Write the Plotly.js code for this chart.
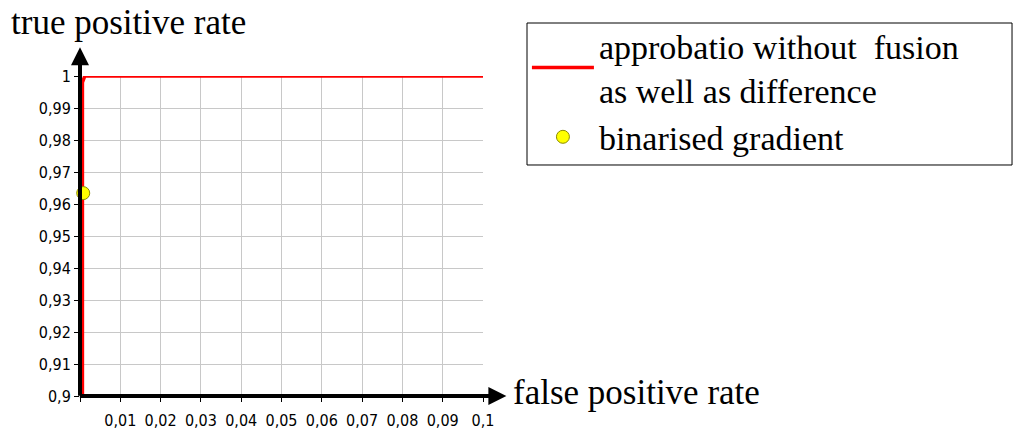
<!DOCTYPE html>
<html>
<head>
<meta charset="utf-8">
<script src="https://cdn.plot.ly/plotly-3.0.1.min.js"></script>
<style>
  html, body { margin: 0; padding: 0; background: #fff; }
  #chart { width: 1024px; height: 436px; }
</style>
</head>
<body>
<div id="chart"></div>
<script>
// tick positions and labels
const xTickVals = [0, 0.01, 0.02, 0.03, 0.04, 0.05, 0.06, 0.07, 0.08, 0.09, 0.1];
const xTickText = ['', '0,01', '0,02', '0,03', '0,04', '0,05', '0,06', '0,07', '0,08', '0,09', '0,1'];
const yTickVals = [0.9, 0.91, 0.92, 0.93, 0.94, 0.95, 0.96, 0.97, 0.98, 0.99, 1];
const yTickText = ['0,9', '0,91', '0,92', '0,93', '0,94', '0,95', '0,96', '0,97', '0,98', '0,99', '1'];

// ROC curve of approbatio without fusion as well as difference
const rocFpr = [0.0006, 0.0006, 0.0012, 0.1];
const rocTpr = [0.9, 0.998, 1, 1];

// single operating point of binarised gradient
const gradFpr = [0.0008];
const gradTpr = [0.9634];

const serif = '"Liberation Serif", "Times New Roman", serif';
const sans = '"DejaVu Sans Condensed", "DejaVu Sans", sans-serif';

const roc = {
  x: rocFpr, y: rocTpr,
  mode: 'lines', type: 'scatter',
  line: { color: '#ff0000', width: 3.5 },
  name: 'approbatio without  fusion<br>as well as difference',
  cliponaxis: false
};

const grad = {
  x: gradFpr, y: gradTpr,
  mode: 'markers', type: 'scatter',
  marker: { color: '#ffff00', size: 13, line: { color: '#8a8a00', width: 1 } },
  name: 'binarised gradient',
  cliponaxis: false
};

const layout = {
  width: 1024, height: 436,
  margin: { l: 80, r: 541, t: 76, b: 40 },
  paper_bgcolor: '#fff', plot_bgcolor: '#fff',
  separators: ',.',
  showlegend: true,
  legend: {
    x: 1.109, y: 1.185, xanchor: 'left', yanchor: 'top',
    bgcolor: 'rgba(0,0,0,0)', borderwidth: 0,
    font: { family: serif, size: 34, color: '#000' },
    itemwidth: 62,
    tracegroupgap: 0
  },
  // legend frame
  shapes: [
    { type: 'rect', xref: 'paper', yref: 'paper', x0: 1.1092, x1: 2.3127, y0: 0.7219, y1: 1.1656,
      line: { color: '#000', width: 1 }, fillcolor: 'rgba(0,0,0,0)' }
  ],
  xaxis: {
    range: [0, 0.1],
    tickvals: xTickVals, ticktext: xTickText,
    ticks: 'outside', ticklen: 5, tickcolor: '#000', tickwidth: 1,
    ticklabelstandoff: 5,
    tickfont: { family: sans, size: 16, color: '#000' },
    showgrid: true, gridcolor: '#c8c8c8', gridwidth: 1,
    zeroline: false, showline: false, fixedrange: true
  },
  yaxis: {
    range: [0.9, 1],
    tickvals: yTickVals, ticktext: yTickText,
    ticks: 'outside', ticklen: 5, tickcolor: '#000', tickwidth: 1,
    tickfont: { family: sans, size: 16, color: '#000' },
    showgrid: true, gridcolor: '#c8c8c8', gridwidth: 1,
    zeroline: false, showline: false, fixedrange: true
  },
  annotations: [
    // axis arrows
    { xref: 'paper', yref: 'paper', x: 0, y: 1.09, ax: 0, ay: 350, text: '',
      showarrow: true, arrowhead: 2, arrowsize: 0.9, arrowwidth: 4, arrowcolor: '#000' },
    { xref: 'paper', yref: 'paper', x: 1.058, y: 0, ax: -428, ay: 0, text: '',
      showarrow: true, arrowhead: 2, arrowsize: 0.9, arrowwidth: 4, arrowcolor: '#000' },
    // axis titles
    { xref: 'paper', yref: 'paper', x: -0.176, y: 1.166, xanchor: 'left', yanchor: 'middle',
      text: 'true positive rate', showarrow: false,
      font: { family: serif, size: 35, color: '#000' } },
    { xref: 'paper', yref: 'paper', x: 1.07, y: 0.01, xanchor: 'left', yanchor: 'middle',
      text: 'false positive rate', showarrow: false,
      font: { family: serif, size: 35, color: '#000' } }
  ]
};

Plotly.newPlot('chart', [roc, grad], layout, { displayModeBar: false, staticPlot: true });
</script>
</body>
</html>
